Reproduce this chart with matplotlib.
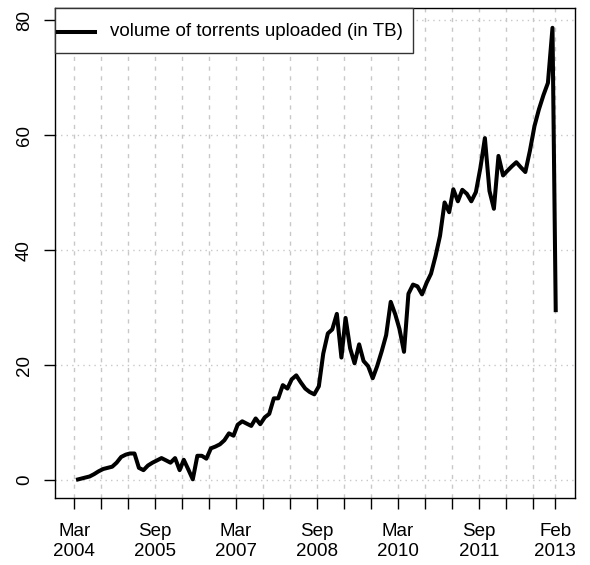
import matplotlib
matplotlib.use("Agg")
import matplotlib.pyplot as plt
import matplotlib.dates as mdates
from matplotlib.patches import Rectangle
from matplotlib.lines import Line2D
import pandas as pd
import numpy as np

plt.rcParams['font.family'] = ['Liberation Sans', 'DejaVu Sans']

volume_tb = [
    0.0, 0.2, 0.4, 0.6, 1.0, 1.5, 1.9, 2.1, 2.3, 3.0,
    4.0, 4.4, 4.6, 4.6, 2.1, 1.7, 2.5, 3.0, 3.4, 3.8,
    3.4, 3.0, 3.8, 1.7, 3.5, 1.8, 0.1, 4.2, 4.2, 3.7,
    5.5, 5.8, 6.2, 6.9, 8.1, 7.7, 9.6, 10.2, 9.8, 9.4,
    10.7, 9.7, 10.9, 11.5, 14.2, 14.2, 16.5, 15.9, 17.5, 18.2,
    17.0, 15.9, 15.3, 14.9, 16.3, 22.0, 25.5, 26.2, 28.9, 21.3,
    28.2, 22.9, 20.3, 23.6, 20.7, 19.8, 17.7, 19.8, 22.4, 25.2,
    31.0, 28.8, 26.3, 22.3, 32.4, 34.0, 33.7, 32.3, 34.3, 35.9,
    39.0, 42.5, 48.3, 46.6, 50.6, 48.5, 50.5, 49.8, 48.5, 50.1,
    54.4, 59.5, 50.3, 47.2, 56.4, 53.0, 53.8, 54.6, 55.3, 54.4,
    53.6, 57.3, 61.6, 64.5, 67.0, 69.1, 78.7, 29.2,
]
# mid-month sample dates; the final (partial) month is sampled early February
month_dates = list(pd.date_range("2004-03-01", periods=len(volume_tb) - 1, freq="MS")
                   + pd.Timedelta(days=12))
last_date = pd.Timestamp("2013-02-04")
dates = month_dates + [last_date]

tick_dates = list(pd.date_range("2004-03-01", "2012-09-01", freq="6MS")) + [pd.Timestamp("2013-02-01")]
label_map = {
    "2004-03": "Mar\n2004", "2005-09": "Sep\n2005", "2007-03": "Mar\n2007",
    "2008-09": "Sep\n2008", "2010-03": "Mar\n2010", "2011-09": "Sep\n2011",
    "2013-02": "Feb\n2013",
}
y_ticks = [0, 20, 40, 60, 80]
legend_label = "volume of torrents uploaded (in TB)"

FS = 13.5
fig = plt.figure(figsize=(5.9, 5.65), dpi=100)
ax = fig.add_axes([55/590, 67/565, 520/590, 490/565])

xnum = mdates.date2num(dates)
ax.plot(xnum, volume_tb, color="black", lw=2.9, solid_joinstyle="round",
        solid_capstyle="butt")

x0 = mdates.date2num(pd.Timestamp("2004-03-01"))
span = xnum[-1] - x0
ax.set_xlim(x0 - 0.04 * span, xnum[-1] + 0.04 * span)
ymin, ymax = 0.0, max(volume_tb)
ax.set_ylim(ymin - 0.04 * (ymax - ymin), ymax + 0.04 * (ymax - ymin) + 0.3)

tnum = mdates.date2num(tick_dates)
ax.set_xticks(tnum)
ax.set_xticklabels([label_map.get(d.strftime("%Y-%m"), "") for d in tick_dates],
                   fontsize=FS, linespacing=1.25)
ax.set_yticks(y_ticks)
ax.set_yticklabels([str(v) for v in y_ticks], fontsize=FS, rotation=90, va="center")

for t in tnum:
    ax.axvline(t, color="#c8c8c8", lw=1.0, dashes=(3, 4), zorder=0)
for v in y_ticks:
    ax.axhline(v, color="#c8c8c8", lw=1.0, dashes=(1, 3), zorder=0)

ax.tick_params(axis="x", direction="out", length=8, width=1, pad=10, color="black")
ax.tick_params(axis="y", direction="out", length=8, width=1, pad=8, color="black")
for s in ax.spines.values():
    s.set_linewidth(1.0)
    s.set_color("black")

# R-style legend box at top-left
W, H = 520.0, 490.0
ax.add_patch(Rectangle((0, 1 - 45 / H), 358 / W, 45 / H, transform=ax.transAxes,
                       facecolor="white", edgecolor="#333333", lw=1.0, zorder=5,
                       clip_on=False))
ax.add_line(Line2D([3 / W, 40 / W], [1 - 24 / H, 1 - 24 / H], transform=ax.transAxes,
                   color="black", lw=2.9, zorder=6))
ax.text(55 / W, 1 - 24 / H, legend_label, transform=ax.transAxes, fontsize=FS,
        va="center", ha="left", zorder=6)

fig.savefig("out.png", dpi=100)
